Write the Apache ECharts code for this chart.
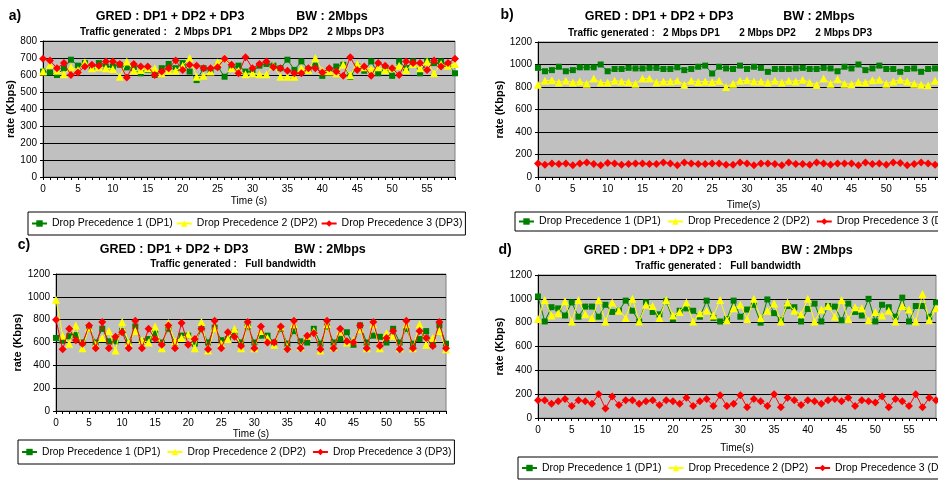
<!DOCTYPE html>
<html><head><meta charset="utf-8">
<script src="https://cdn.jsdelivr.net/npm/echarts@6/dist/echarts.min.js"></script>
<style>html,body{margin:0;padding:0;background:#fff;overflow:hidden;width:938px;height:480px}#c{width:1000px;height:480px}</style>
</head><body><div id="c"></div>
<script>
const timeCategories = [0,1,2,3,4,5,6,7,8,9,10,11,12,13,14,15,16,17,18,19,20,21,22,23,24,25,26,27,28,29,30,31,32,33,34,35,36,37,38,39,40,41,42,43,44,45,46,47,48,49,50,51,52,53,54,55,56,57,58,59];
const seriesNames = ['Drop Precedence 1 (DP1)','Drop Precedence 2 (DP2)','Drop Precedence 3 (DP3)'];

const aDP1 = [620,615,600,640,690,655,670,645,670,650,650,660,645,640,610,630,600,640,665,640,670,620,570,640,630,650,590,640,655,620,620,655,665,655,640,690,630,680,635,655,595,630,650,660,590,650,625,680,610,640,595,680,640,680,610,680,670,680,660,610];
const aDP2 = [620,660,625,605,645,630,675,640,645,640,635,590,680,625,630,640,640,610,625,625,655,700,590,595,620,675,700,640,625,605,610,605,605,655,590,590,590,640,630,700,625,620,610,660,600,665,645,635,645,630,640,655,630,665,640,680,610,665,655,665];
const aDP3 = [695,685,640,670,600,615,650,660,655,680,680,665,585,665,650,650,600,620,640,685,630,660,655,640,640,645,695,660,610,705,640,665,680,645,640,625,610,610,640,640,615,640,620,595,705,630,650,595,670,655,640,600,680,670,670,630,685,650,670,695];

const bDP1 = [970,940,950,980,940,950,975,975,975,1000,940,960,960,970,965,965,970,970,960,960,975,950,960,980,990,920,980,965,960,990,960,980,970,935,960,960,960,965,970,960,960,970,965,940,980,965,1000,950,965,990,960,960,935,960,965,935,960,965,950,935];
const bDP2 = [820,855,860,840,855,840,850,830,875,840,840,855,850,845,830,875,875,840,850,850,855,820,855,845,850,845,855,800,830,855,860,850,850,840,855,840,855,850,865,840,820,875,830,870,830,825,845,840,860,865,830,850,865,850,830,820,815,855,840,830];
const bDP3 = [120,110,120,115,120,105,120,130,115,105,125,120,110,115,120,120,115,115,130,120,105,130,120,115,115,120,120,110,110,130,120,105,120,120,115,105,130,115,115,110,130,120,110,120,120,120,105,130,115,120,110,130,125,105,115,130,120,110,120,125];

const cDP1 = [640,615,655,665,600,720,600,720,610,610,700,600,740,610,630,680,600,720,600,660,660,590,720,600,730,620,630,690,600,740,600,660,660,600,720,590,700,610,600,720,590,740,600,630,690,580,750,600,660,650,600,720,600,720,590,630,700,580,750,590];
const cDP2 = [975,660,590,750,550,730,580,640,700,530,780,600,700,620,600,740,550,770,610,640,670,550,780,530,730,590,630,720,550,760,550,700,640,580,740,560,760,560,660,700,530,760,560,700,600,620,720,550,760,550,680,660,550,760,550,760,580,640,700,540];
const cDP3 = [800,540,720,620,590,750,550,780,550,650,690,550,790,550,720,630,580,750,550,770,580,630,720,540,790,550,690,650,570,780,550,740,600,600,740,540,790,550,660,680,540,790,550,720,610,600,750,550,780,570,640,700,540,790,550,700,640,570,780,550];

const dDP1 = [1020,810,930,920,860,970,850,935,935,850,950,890,900,985,900,810,970,890,870,980,830,900,920,900,850,985,840,810,830,985,850,910,950,800,995,880,820,940,930,810,915,960,810,940,935,820,960,890,860,1000,810,950,930,850,1010,810,940,940,850,970];
const dDP2 = [830,990,860,880,980,810,990,870,840,990,810,970,900,840,1000,810,950,940,840,990,860,890,970,810,880,900,860,990,820,920,950,830,1000,840,900,960,810,970,900,870,1000,810,910,940,850,990,830,930,920,820,890,860,900,810,940,910,810,1040,820,920];
const dDP3 = [150,150,120,140,160,100,150,140,120,200,80,180,110,150,150,120,140,150,110,150,140,120,170,100,140,160,100,190,100,120,190,90,160,140,100,200,90,170,150,110,150,140,120,150,160,140,170,100,150,140,130,180,90,160,140,100,200,90,170,150];

const panelLetters = ['a)','b)','c)','d)'];
const titleLeft = 'GRED : DP1 + DP2 + DP3';
const titleRight = 'BW : 2Mbps';
const subtitles = ['Traffic generated :   2 Mbps DP1       2 Mbps DP2       2 Mbps DP3',
                   'Traffic generated :   2 Mbps DP1       2 Mbps DP2       2 Mbps DP3',
                   'Traffic generated :   Full bandwidth',
                   'Traffic generated :   Full bandwidth'];
const yAxisName = 'rate (Kbps)';
const xAxisNames = ['Time (s)','Time(s)','Time (s)','Time(s)'];
const yMax = [800,1200,1200,1200];
const yStep = [100,200,200,200];
const panelData = [[aDP1,aDP2,aDP3],[bDP1,bDP2,bDP3],[cDP1,cDP2,cDP3],[dDP1,dDP2,dDP3]];

const FONT = '"Liberation Sans", Arial, sans-serif';
const colors = ['#008000','#FFFF00','#FF0000'];
const symbols = ['rect','triangle','diamond'];
const symSizes = [6,8,8];

const layout = [
  {grid:{left:43,top:41,width:412,height:136}, yGap:26, xGap:19,
   legend:{left:28,top:212,font:10.5,gap:3,pad:[6,3,6,3]},
   letter:[15,16], t1:[170,17], t2:[332,17], t3:[232,32]},
  {grid:{left:538,top:42,width:411,height:135}, yGap:30, xGap:23,
   legend:{left:515,top:212,font:10.6,gap:6,pad:[4,3,4,3]},
   letter:[507,15], t1:[659,17], t2:[819,17], t3:[720,33]},
  {grid:{left:56,top:274,width:390,height:137}, yGap:27, xGap:18,
   legend:{left:18,top:440,font:10.3,gap:6,pad:[7,3,7,3]},
   letter:[24,245], t1:[174,250], t2:[330,250], t3:[233,264]},
  {grid:{left:538,top:275,width:398,height:143}, yGap:29, xGap:25,
   legend:{left:518,top:457,font:10.4,gap:6,pad:[6,3,6,3]},
   letter:[505,250], t1:[658,251], t2:[817,251], t3:[718,266]}
];

const option = {animation:false, backgroundColor:'#fff',
  grid:[], xAxis:[], yAxis:[], series:[], legend:[], graphic:[]};

layout.forEach((L,p)=>{
  option.grid.push(Object.assign({show:true, backgroundColor:'#C0C0C0', borderColor:'#808080', borderWidth:1, containLabel:false}, L.grid));
  option.xAxis.push({type:'category', gridIndex:p, data:timeCategories, boundaryGap:false,
    name:xAxisNames[p], nameLocation:'middle', nameGap:L.xGap,
    nameTextStyle:{fontFamily:FONT, fontSize:10, color:'#000'},
    axisLine:{lineStyle:{color:'#000',width:1}},
    axisTick:{show:true, length:3, interval:0, lineStyle:{color:'#000'}},
    axisLabel:{interval:(i)=>i%5===0, fontFamily:FONT, fontSize:10, color:'#000', margin:7},
    splitLine:{show:false}});
  option.yAxis.push({type:'value', gridIndex:p, min:0, max:yMax[p], interval:yStep[p],
    name:yAxisName, nameLocation:'middle', nameGap:L.yGap, nameRotate:90,
    nameTextStyle:{fontFamily:FONT, fontSize:11, fontWeight:'bold', color:'#000'},
    axisLine:{show:true, lineStyle:{color:'#000',width:1}},
    axisTick:{show:true, length:3, lineStyle:{color:'#000'}},
    axisLabel:{fontFamily:FONT, fontSize:10, color:'#000', margin:6, formatter:(v)=>String(v)},
    splitLine:{show:true, lineStyle:{color:'#000', width:1}}});
  panelData[p].forEach((arr,s)=>{
    option.series.push({type:'line', name:seriesNames[s], xAxisIndex:p, yAxisIndex:p, data:arr,
      symbol:symbols[s], symbolSize:symSizes[s], showAllSymbol:true,
      lineStyle:{color:colors[s], width:1}, itemStyle:{color:colors[s]}, z:2+s});
  });
  option.legend.push({left:L.legend.left, top:L.legend.top, width:480, orient:'horizontal', data:seriesNames,
    itemWidth:15, itemHeight:8, itemGap:L.legend.gap, padding:L.legend.pad,
    borderColor:'#000', borderWidth:1, backgroundColor:'#fff',
    textStyle:{fontFamily:FONT, fontSize:L.legend.font, color:'#000'}});
  const txt = (x,y,t,size,bold)=>({type:'text', x:x, y:y, style:{text:t, x:0, y:0, align:'center', verticalAlign:'middle', font:(bold?'bold ':'')+size+'px '+FONT, fill:'#000'}});
  option.graphic.push(txt(L.letter[0],L.letter[1],panelLetters[p],14,true));
  option.graphic.push(txt(L.t1[0],L.t1[1],titleLeft,12.5,true));
  option.graphic.push(txt(L.t2[0],L.t2[1],titleRight,12.5,true));
  option.graphic.push(txt(L.t3[0],L.t3[1],subtitles[p],10,true));
});

const chart = echarts.init(document.getElementById('c'), null, {renderer:'canvas', width:1000, height:480});
chart.setOption(option);
</script>
</body></html>
